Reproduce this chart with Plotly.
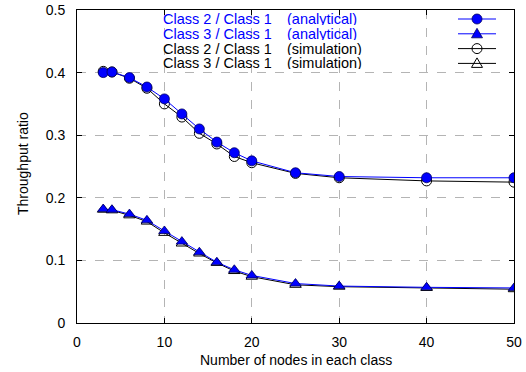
import plotly.graph_objects as go

nodes = [3, 4, 6, 8, 10, 12, 14, 16, 18, 20, 25, 30, 40, 50]
c2_analytical = [0.400, 0.401, 0.392, 0.377, 0.358, 0.334, 0.310, 0.289, 0.272, 0.259, 0.240, 0.234, 0.232, 0.232]
c3_analytical = [0.182, 0.181, 0.174, 0.164, 0.147, 0.130, 0.113, 0.097, 0.085, 0.076, 0.063, 0.059, 0.057, 0.056]
c2_simulation = [0.402, 0.401, 0.391, 0.375, 0.350, 0.329, 0.303, 0.286, 0.266, 0.256, 0.239, 0.232, 0.227, 0.225]
c3_simulation = [0.181, 0.180, 0.172, 0.162, 0.144, 0.127, 0.111, 0.096, 0.083, 0.074, 0.061, 0.058, 0.056, 0.054]

x_ticks = [0, 10, 20, 30, 40, 50]
y_ticks = [0, 0.1, 0.2, 0.3, 0.4, 0.5]
y_tick_labels = ["0", "0.1", "0.2", "0.3", "0.4", "0.5"]

x_title = "Number of nodes in each class"
y_title = "Throughput ratio"
legend_names = ["Class 2 / Class 1", "Class 3 / Class 1", "Class 2 / Class 1", "Class 3 / Class 1"]
legend_kinds = ["(analytical)", "(analytical)", "(simulation)", "(simulation)"]

BLUE = "#0000ff"
FONT = "Liberation Sans, Arial, sans-serif"

fig = go.Figure()

# simulation (drawn first, beneath)
fig.add_trace(go.Scatter(x=nodes, y=c2_simulation, mode="lines+markers",
                         line=dict(color="black", width=1),
                         marker=dict(symbol="circle-open", size=10, color="black", line=dict(width=1)),
                         name="sim2"))
fig.add_trace(go.Scatter(x=nodes, y=c3_simulation, mode="lines+markers",
                         line=dict(color="black", width=1),
                         marker=dict(symbol="triangle-up-open", size=10, color="black", line=dict(width=1)),
                         name="sim3"))
# analytical
fig.add_trace(go.Scatter(x=nodes, y=c2_analytical, mode="lines+markers",
                         line=dict(color=BLUE, width=1),
                         marker=dict(symbol="circle", size=10, color=BLUE, line=dict(width=0.8, color="#000060")),
                         name="an2"))
fig.add_trace(go.Scatter(x=nodes, y=c3_analytical, mode="lines+markers",
                         line=dict(color=BLUE, width=1),
                         marker=dict(symbol="triangle-up", size=10, color=BLUE, line=dict(width=0.8, color="#000060")),
                         name="an3"))

# custom legend (text left, sample right); screen pixel helpers
L, T, W, H = 77, 10, 437, 313
def px(x):
    return (x - L) / W
def py(y):
    return 1 - (y - T) / H

rows = [19, 33.8, 48.6, 63.4]
colors = [BLUE, BLUE, "black", "black"]
shapes = []
annotations = []
for i, r in enumerate(rows):
    annotations.append(dict(x=px(162), y=py(r), xref="paper", yref="paper", text=legend_names[i],
                            showarrow=False, xanchor="left", yanchor="middle", height=12, borderpad=0,
                            font=dict(color=colors[i], size=14.5, family=FONT)))
    annotations.append(dict(x=px(286), y=py(r), xref="paper", yref="paper", text=legend_kinds[i],
                            showarrow=False, xanchor="left", yanchor="middle", height=12, borderpad=0,
                            font=dict(color=colors[i], size=14.5, family=FONT)))
    shapes.append(dict(type="line", xref="paper", yref="paper", x0=px(458), x1=px(496),
                       y0=py(r), y1=py(r), line=dict(color=colors[i], width=1)))
    filled = i < 2
    fill = BLUE if filled else "rgba(0,0,0,0)"
    outline = "#000060" if filled else "black"
    if i % 2 == 0:
        shapes.append(dict(type="circle", xref="paper", yref="paper", xsizemode="pixel", ysizemode="pixel",
                           xanchor=px(477), yanchor=py(r), x0=-5, x1=5, y0=-5, y1=5,
                           fillcolor=fill, line=dict(color=outline, width=0.8 if filled else 1)))
    else:
        shapes.append(dict(type="path", xref="paper", yref="paper", xsizemode="pixel", ysizemode="pixel",
                           xanchor=px(477), yanchor=py(r), path="M -5.5,-4 L 5.5,-4 L 0,5.5 Z",
                           fillcolor=fill, line=dict(color=outline, width=0.8 if filled else 1)))

# axis titles
annotations.append(dict(x=0.5, y=py(360), xref="paper", yref="paper", text=x_title, showarrow=False,
                        xanchor="center", yanchor="middle", font=dict(size=14, family=FONT, color="black")))
annotations.append(dict(x=px(23), y=py(164), xref="paper", yref="paper", text=y_title, showarrow=False,
                        textangle=-90, xanchor="center", yanchor="middle",
                        font=dict(size=14, family=FONT, color="black")))

axis_common = dict(showline=True, linecolor="black", linewidth=1, mirror="ticks",
                   ticks="inside", ticklen=5, tickcolor="black", automargin=False,
                   showgrid=True, gridcolor="#b4b4b4", griddash="dash", gridwidth=1,
                   zeroline=False, tickfont=dict(size=14, family=FONT, color="black"))

fig.update_layout(
    width=526, height=372,
    margin=dict(l=77, r=12, t=10, b=49, autoexpand=False),
    plot_bgcolor="white", paper_bgcolor="white",
    showlegend=False,
    font=dict(family=FONT, size=14, color="black"),
    xaxis=dict(range=[0, 50], tickvals=x_ticks, ticklabelstandoff=6, **axis_common),
    yaxis=dict(range=[0, 0.5], tickvals=y_ticks, ticktext=y_tick_labels, ticklabelstandoff=8,
               **axis_common),
    shapes=shapes,
    annotations=annotations,
)

fig.write_html("out.html", config={"displayModeBar": False},
               post_script="document.body.style.margin='0';")
